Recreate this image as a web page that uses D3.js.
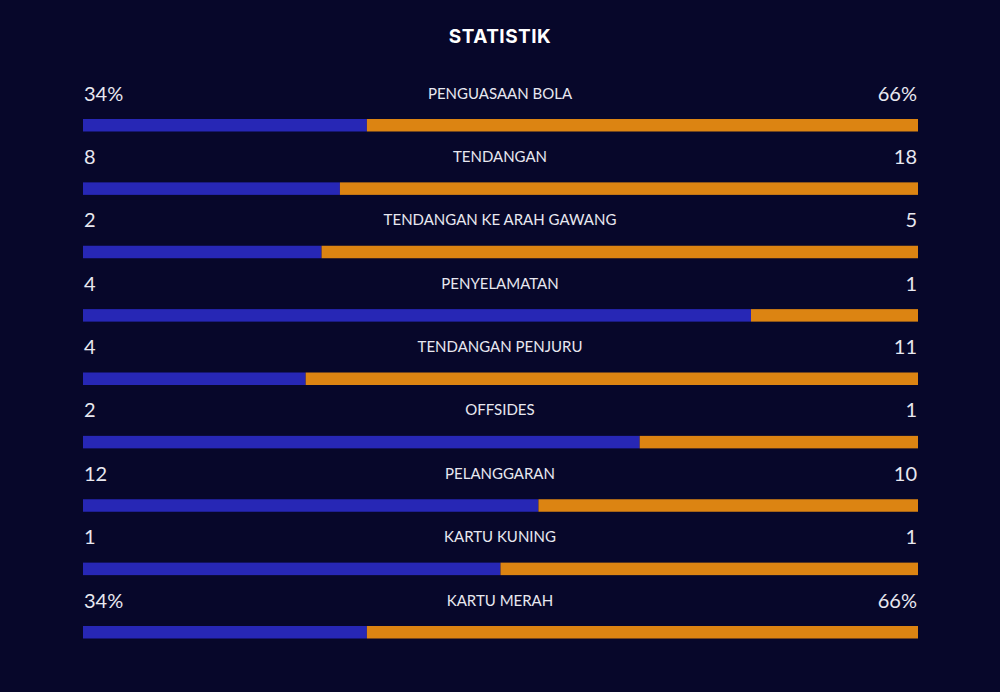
<!DOCTYPE html>
<html>
<head>
<meta charset="utf-8">
<script src="https://cdn.jsdelivr.net/npm/d3@7"></script>
<style>
  html, body { margin: 0; padding: 0; background: #07072a; }
  svg { display: block; }
</style>
</head>
<body>
<svg id="chart"></svg>
<script>
const width = 1000, height = 692;

// Match statistics (home = left, away = right)
const categories = ["PENGUASAAN BOLA", "TENDANGAN", "TENDANGAN KE ARAH GAWANG", "PENYELAMATAN",
    "TENDANGAN PENJURU", "OFFSIDES", "PELANGGARAN", "KARTU KUNING", "KARTU MERAH"];
const homeValues = [34, 8, 2, 4, 4, 2, 12, 1, 34];
const awayValues = [66, 18, 5, 1, 11, 1, 10, 1, 66];
const homeLabels = ["34%", "8", "2", "4", "4", "2", "12", "1", "34%"];
const awayLabels = ["66%", "18", "5", "1", "11", "1", "10", "1", "66%"];

const homeColor = "#2727b5";
const awayColor = "#dc8412";

const svg = d3.select("#chart")
    .attr("width", width)
    .attr("height", height)
    .style("background", "#07072a");

svg.append("text")
    .attr("x", width / 2)
    .attr("y", 43)
    .attr("text-anchor", "middle")
    .attr("fill", "#ffffff")
    .style("font-family", "Inter, Roboto, sans-serif")
    .style("font-weight", 700)
    .style("font-size", "19px")
    .style("letter-spacing", "0.5px")
    .text("STATISTIK");

const left = 83, right = 918;

// Row position by index
const y = d3.scaleLinear()
    .domain([0, categories.length - 1])
    .range([119, 626]);

// Share of total -> x position
const x = d3.scaleLinear()
    .domain([0, 1])
    .range([left, right]);

const rows = svg.selectAll("g.row")
    .data(categories.map((c, i) => ({
        name: c,
        home: homeValues[i],
        away: awayValues[i],
        homeLabel: homeLabels[i],
        awayLabel: awayLabels[i],
        i
    })))
    .join("g")
    .attr("class", "row")
    .attr("transform", d => `translate(0,${y(d.i)})`);

const share = d => d.home / (d.home + d.away);

rows.append("rect")
    .attr("x", x(0))
    .attr("y", 0)
    .attr("width", d => x(share(d)) - x(0))
    .attr("height", 12.5)
    .attr("fill", homeColor);

rows.append("rect")
    .attr("x", d => x(share(d)))
    .attr("y", 0)
    .attr("width", d => x(1) - x(share(d)))
    .attr("height", 12.5)
    .attr("fill", awayColor);

const textStyle = sel => sel
    .attr("fill", "#e8e8f0")
    .style("font-family", "Lato, sans-serif");

rows.append("text")
    .attr("x", left + 1)
    .attr("y", -18.5)
    .style("font-size", "20px")
    .call(textStyle)
    .text(d => d.homeLabel);

rows.append("text")
    .attr("x", right - 1)
    .attr("y", -18.5)
    .attr("text-anchor", "end")
    .style("font-size", "20px")
    .call(textStyle)
    .text(d => d.awayLabel);

rows.append("text")
    .attr("x", width / 2)
    .attr("y", -20.5)
    .attr("text-anchor", "middle")
    .style("font-size", "15px")
    .call(textStyle)
    .text(d => d.name);
</script>
</body>
</html>
